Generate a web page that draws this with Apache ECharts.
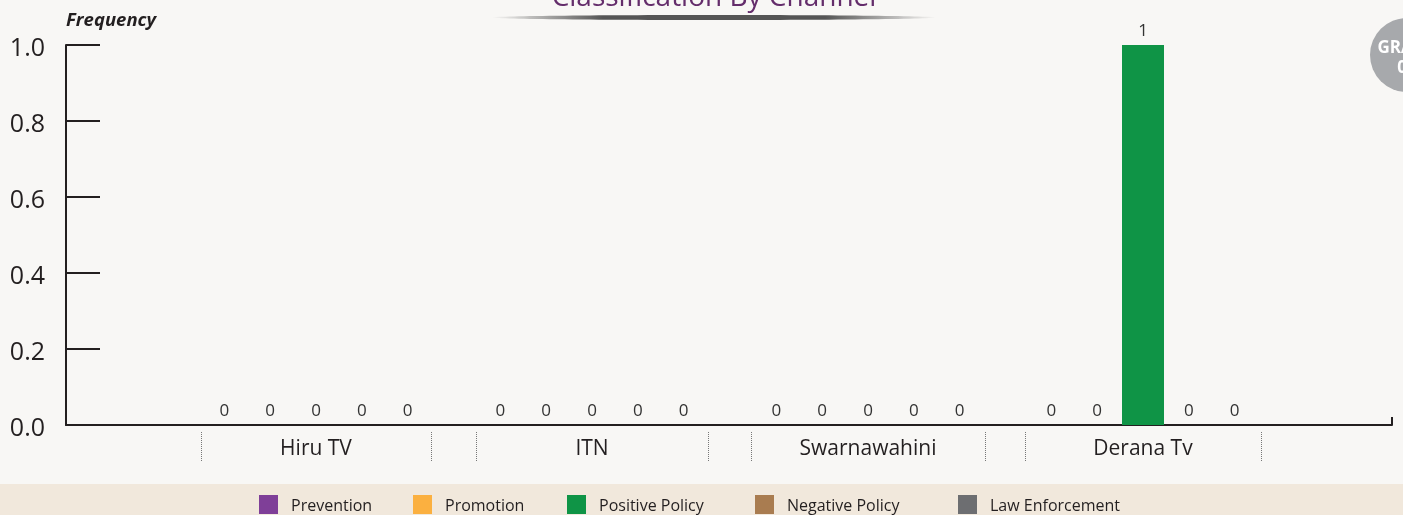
<!DOCTYPE html>
<html>
<head>
<meta charset="utf-8">
<script src="https://cdn.jsdelivr.net/npm/echarts@6/dist/echarts.min.js"></script>
<style>
  html, body { margin: 0; padding: 0; background: #f8f7f5; }
  #chart { width: 1403px; height: 515px; }
</style>
</head>
<body>
<div id="chart"></div>
<script>
// data
const channels = ['Hiru TV', 'ITN', 'Swarnawahini', 'Derana Tv'];
const classes = ['Prevention', 'Promotion', 'Positive Policy', 'Negative Policy', 'Law Enforcement'];
const prevention = [0, 0, 0, 0];
const promotion = [0, 0, 0, 0];
const positivePolicy = [0, 0, 0, 1];
const negativePolicy = [0, 0, 0, 0];
const lawEnforcement = [0, 0, 0, 0];
const yTicks = [0, 0.2, 0.4, 0.6, 0.8, 1.0];

const values = [prevention, promotion, positivePolicy, negativePolicy, lawEnforcement];
const colors = ['#7f3f98', '#fbb040', '#0f9446', '#a97c50', '#6d6e71'];
const groupLeft = [201, 476, 751, 1025];
const groupWidth = [230, 232, 234, 236];
const legendLeft = [259, 413, 567, 755, 958];
const font = 'Open Sans';
const ink = '#231f20';

const chart = echarts.init(document.getElementById('chart'));

// main grid carries the y axis and the long baseline
const grids = [{ left: 66, right: 11, top: 45, bottom: 90 }];
const xAxes = [{
  type: 'value', gridIndex: 0, min: 0, max: 1, interval: 1,
  axisLine: { show: true, lineStyle: { color: ink, width: 2 } },
  axisTick: { show: true, inside: true, length: 8, lineStyle: { color: ink, width: 2 } },
  axisLabel: { show: false },
  splitLine: { show: false }
}];
const yAxes = [{
  type: 'value', gridIndex: 0, min: yTicks[0], max: yTicks[yTicks.length - 1], interval: 0.2,
  name: 'Frequency', nameLocation: 'end', nameGap: 15,
  nameTextStyle: { align: 'left', fontFamily: font, fontStyle: 'italic', fontWeight: 'bold', fontSize: 18.5, color: ink },
  axisLine: { show: true, lineStyle: { color: ink, width: 2 } },
  axisTick: { show: true, inside: true, length: 34, lineStyle: { color: ink, width: 2 } },
  axisLabel: {
    margin: 21,
    formatter: v => '{t|' + v.toFixed(1) + '}',
    rich: { t: { fontFamily: font, fontSize: 25, color: ink, padding: [8, 0, 0, 0] } }
  },
  splitLine: { show: false }
}];

// one small grid per channel, so each group gets its own dotted brackets
channels.forEach((ch, i) => {
  grids.push({ left: groupLeft[i], width: groupWidth[i], top: 45, bottom: 90 });
  xAxes.push({
    type: 'category', gridIndex: i + 1, data: [ch], offset: 7,
    axisLine: { show: false, onZero: false },
    axisTick: { show: true, length: 30, lineStyle: { color: '#777', type: 'dotted', width: 1 } },
    axisLabel: { fontFamily: font, fontSize: 21, color: ink, margin: 7 }
  });
  yAxes.push({ type: 'value', gridIndex: i + 1, min: 0, max: 1, show: false });
});

const series = [];
channels.forEach((ch, i) => {
  classes.forEach((name, k) => {
    series.push({
      name: name, type: 'bar', xAxisIndex: i + 1, yAxisIndex: i + 1,
      data: [values[k][i]],
      barWidth: 42, barGap: '9%',
      itemStyle: { color: colors[k] },
      label: { show: true, position: 'top', distance: 5, fontFamily: font, fontSize: 17, color: '#333' }
    });
  });
});

// one legend per item, to match the uneven spacing
const legends = classes.map((name, k) => ({
  data: [name], left: legendLeft[k], top: 495, padding: 0, icon: 'rect', itemWidth: 19, itemHeight: 19,
  formatter: '{t|{name}}',
  textStyle: { rich: { t: { fontFamily: font, fontSize: 16, color: ink, padding: [4, 0, 0, 8] } } }
}));

chart.setOption({
  backgroundColor: '#f8f7f5',
  animation: false,
  title: {
    text: 'Classification By Channel', left: 709, textAlign: 'center', top: -21,
    textStyle: { fontFamily: font, fontSize: 28, fontWeight: 'normal', color: '#642d6b' }
  },
  legend: legends,
  graphic: [
    { type: 'rect', z: -10, shape: { x: 0, y: 484, width: 1403, height: 31 }, style: { fill: '#f1e8dc' } },
    {
      type: 'ellipse', shape: { cx: 714, cy: 17.5, rx: 222, ry: 2.5 },
      style: {
        fill: new echarts.graphic.LinearGradient(0, 0, 1, 0, [
          { offset: 0, color: 'rgba(80,80,80,0)' },
          { offset: 0.25, color: '#555' },
          { offset: 0.75, color: '#555' },
          { offset: 1, color: 'rgba(80,80,80,0)' }
        ])
      }
    },
    { type: 'circle', shape: { cx: 1407, cy: 55, r: 37 }, style: { fill: '#a7a9ac' } },
    { type: 'text', x: 1407, y: 48, style: { text: 'GRAPH', fill: '#fff', font: 'bold 17px "Open Sans"', align: 'center', verticalAlign: 'middle' } },
    { type: 'text', x: 1407, y: 68, style: { text: '01', fill: '#fff', font: 'bold 17px "Open Sans"', align: 'center', verticalAlign: 'middle' } }
  ],
  grid: grids,
  xAxis: xAxes,
  yAxis: yAxes,
  series: series
});
</script>
</body>
</html>
